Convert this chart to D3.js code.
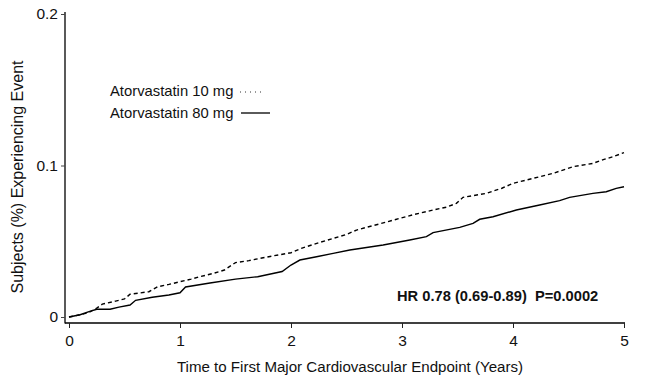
<!DOCTYPE html>
<html>
<head>
<meta charset="utf-8">
<script src="https://cdn.jsdelivr.net/npm/d3@7/dist/d3.min.js"></script>
<style>
html,body{margin:0;padding:0;background:#fff;}
svg{display:block;}
text{font-family:"Liberation Sans",Arial,sans-serif;fill:#111;}
</style>
</head>
<body>
<svg id="chart" width="658" height="387"></svg>
<script>
// Data (years, proportion experiencing event)
const seriesNames = ["Atorvastatin 10 mg", "Atorvastatin 80 mg"];
const time10 = [0,0.1,0.18,0.25,0.3,0.42,0.5,0.55,0.72,0.8,0.9,1.0,1.1,1.18,1.3,1.4,1.5,1.62,1.72,1.85,2.0,2.1,2.25,2.38,2.5,2.59,2.68,2.8,2.98,3.1,3.28,3.4,3.49,3.55,3.76,3.9,4.0,4.18,4.36,4.54,4.72,4.82,4.9,5.0];
const value10 = [0,0.0015,0.003,0.0059,0.0085,0.0105,0.0119,0.015,0.0167,0.02,0.0215,0.0233,0.025,0.0266,0.0288,0.031,0.0359,0.0372,0.0387,0.0405,0.0424,0.0455,0.049,0.0519,0.0545,0.0574,0.0592,0.0615,0.0651,0.0675,0.0706,0.0725,0.075,0.079,0.0816,0.085,0.0882,0.0915,0.0948,0.0992,0.1014,0.104,0.1058,0.1085];
const time80 = [0,0.1,0.18,0.25,0.37,0.45,0.55,0.6,0.75,0.9,1.0,1.05,1.27,1.5,1.7,1.92,2.0,2.08,2.23,2.38,2.53,2.83,3.07,3.22,3.28,3.52,3.64,3.7,3.82,4.03,4.24,4.42,4.51,4.72,4.84,4.93,5.0];
const value80 = [0,0.0015,0.0035,0.0051,0.0051,0.0065,0.0079,0.011,0.013,0.0145,0.016,0.0198,0.0224,0.025,0.0266,0.03,0.0343,0.0376,0.0398,0.042,0.0442,0.0475,0.0508,0.053,0.0557,0.0592,0.0618,0.0645,0.0662,0.0706,0.0739,0.0768,0.079,0.0816,0.0827,0.0849,0.086];
const xTicks = [0,1,2,3,4,5];
const xTickLabels = ["0","1","2","3","4","5"];
const yTicks = [0,0.1,0.2];
const yTickLabels = ["0","0.1","0.2"];
const annotation = "HR 0.78 (0.69-0.89)  P=0.0002";
const xTitle = "Time to First Major Cardiovascular Endpoint (Years)";
const yTitle = "Subjects (%) Experiencing Event";

const svg = d3.select("#chart");
const x = d3.scaleLinear().domain([0,5]).range([69,624]);
const y = d3.scaleLinear().domain([0,0.2]).range([317,14]);
const axisX = 65, axisY = 323;

// axis lines
svg.append("line").attr("x1",axisX).attr("x2",axisX).attr("y1",12).attr("y2",axisY+0.5)
  .attr("stroke","#000").attr("stroke-width",1.3);
svg.append("line").attr("x1",axisX).attr("x2",625).attr("y1",axisY).attr("y2",axisY)
  .attr("stroke","#000").attr("stroke-width",1.3);

const yAxis = d3.axisLeft(y).tickValues(yTicks).tickFormat((d,i)=>yTickLabels[i]).tickSize(4).tickPadding(3);
const gy = svg.append("g").attr("transform",`translate(${axisX},0)`).call(yAxis);
gy.select(".domain").remove();
gy.selectAll("line").attr("stroke","#444");
gy.selectAll("text").attr("font-size",15.5).attr("font-family","Liberation Sans, Arial, sans-serif").attr("fill","#111");

const xAxis = d3.axisBottom(x).tickValues(xTicks).tickFormat((d,i)=>xTickLabels[i]).tickSize(5).tickPadding(7);
const gx = svg.append("g").attr("transform",`translate(0,${axisY})`).call(xAxis);
gx.select(".domain").remove();
gx.selectAll("line").attr("stroke","#222");
gx.selectAll("text").attr("font-size",15.5).attr("font-family","Liberation Sans, Arial, sans-serif").attr("fill","#111");

// curves
const line = d3.line().x(d=>x(d[0])).y(d=>y(d[1])).curve(d3.curveLinear);
const d10 = time10.map((t,i)=>[t,value10[i]]);
const d80 = time80.map((t,i)=>[t,value80[i]]);
svg.append("path").attr("d",line(d10)).attr("fill","none").attr("stroke","#000")
  .attr("stroke-width",1.4).attr("stroke-dasharray","4,3");
svg.append("path").attr("d",line(d80)).attr("fill","none").attr("stroke","#000")
  .attr("stroke-width",1.4);

// legend
svg.append("text").attr("x",110).attr("y",95.5).attr("font-size",14.8).text(seriesNames[0]);
svg.append("text").attr("x",110).attr("y",117.5).attr("font-size",14.8).text(seriesNames[1]);
svg.append("line").attr("x1",240).attr("x2",264).attr("y1",92).attr("y2",92)
  .attr("stroke","#333").attr("stroke-width",1).attr("stroke-dasharray","1,4");
svg.append("line").attr("x1",241).attr("x2",270).attr("y1",113).attr("y2",113)
  .attr("stroke","#000").attr("stroke-width",1.3);

// annotation
svg.append("text").attr("x",397).attr("y",300.5).attr("font-size",14.7).attr("font-weight","bold")
  .style("white-space","pre").attr("xml:space","preserve").text(annotation);

// titles
svg.append("text").attr("x",350).attr("y",372).attr("text-anchor","middle").attr("font-size",15.1).text(xTitle);
svg.append("text").attr("transform","translate(23,177) rotate(-90)").attr("text-anchor","middle")
  .attr("font-size",16).text(yTitle);
</script>
</body>
</html>
